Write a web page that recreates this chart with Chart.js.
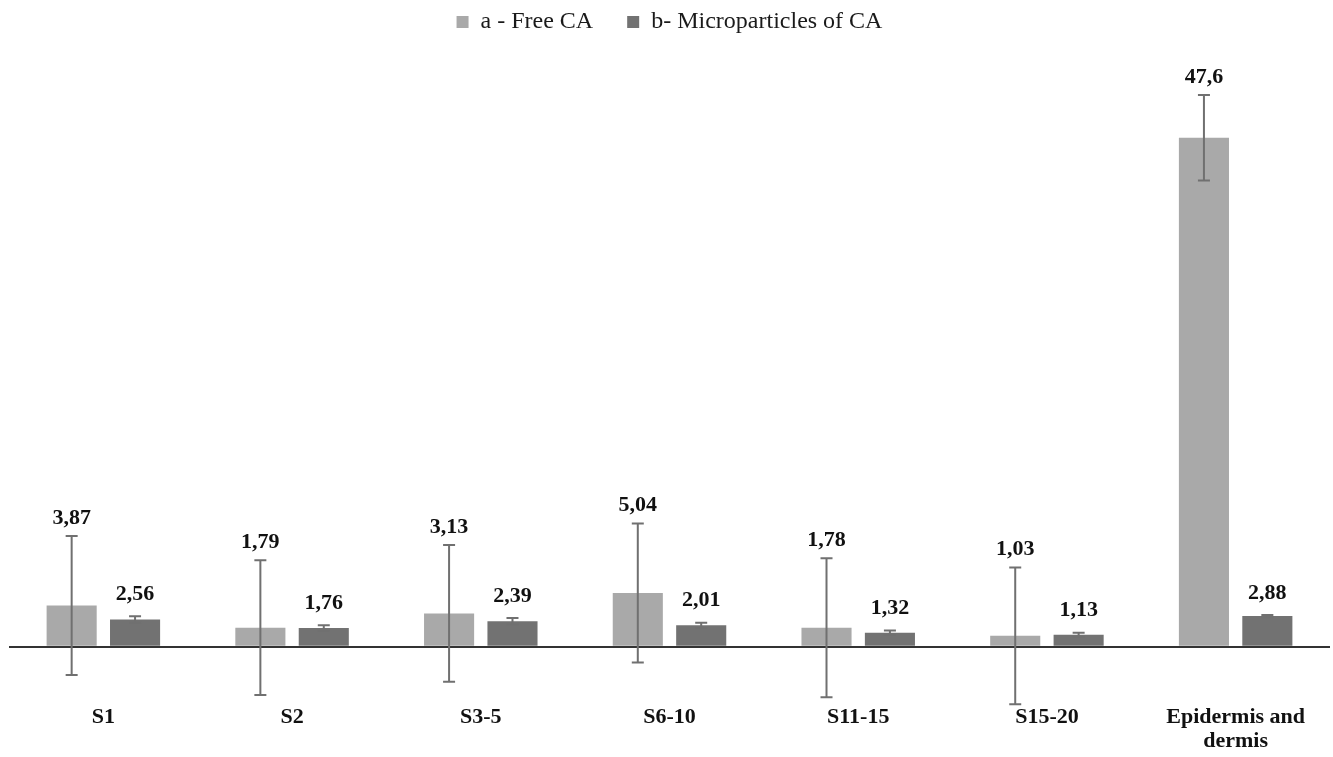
<!DOCTYPE html>
<html>
<head>
<meta charset="utf-8">
<script src="https://cdn.jsdelivr.net/npm/chart.js@4.4.1/dist/chart.umd.min.js"></script>
<style>
    html, body { margin: 0; padding: 0; background: #fff; }
    #wrap { width: 1333px; height: 757px; position: relative; }
</style>
</head>
<body>
<div id="wrap"><canvas id="chart"></canvas></div>
<script>
// =============================
// DATA
// =============================
const categories = ["S1", "S2", "S3-5", "S6-10", "S11-15", "S15-20", ["Epidermis and", "dermis"]];
const freeCA = [3.87, 1.79, 3.13, 5.04, 1.78, 1.03, 47.6];
const microCA = [2.56, 1.76, 2.39, 2.01, 1.32, 1.13, 2.88];
const freeErr = [6.5, 6.3, 6.4, 6.5, 6.5, 6.4, 4.0];
const microErr = [0.3, 0.25, 0.3, 0.25, 0.2, 0.2, 0.1];
const seriesNames = ["a - Free CA", "b- Microparticles of CA"];

const FONT = "'Liberation Serif', 'Times New Roman', serif";

// =============================
// ERROR BARS + VALUE LABELS
// =============================
const errorBars = {
    id: "errorBars",
    afterDatasetsDraw(chart) {
        const ctx = chart.ctx;
        const y = chart.scales.y;
        const errs = [freeErr, microErr];

        chart.data.datasets.forEach((ds, i) => {
            const meta = chart.getDatasetMeta(i);
            meta.data.forEach((bar, j) => {
                const v = ds.data[j];
                const e = errs[i][j];
                const top = y.getPixelForValue(v + e);
                const bot = y.getPixelForValue(v - e);
                const cap = 6;

                ctx.save();
                ctx.strokeStyle = "#707070";
                ctx.lineWidth = 2;
                ctx.beginPath();
                ctx.moveTo(bar.x, top);
                ctx.lineTo(bar.x, bot);
                ctx.moveTo(bar.x - cap, top);
                ctx.lineTo(bar.x + cap, top);
                ctx.moveTo(bar.x - cap, bot);
                ctx.lineTo(bar.x + cap, bot);
                ctx.stroke();

                ctx.fillStyle = "#111";
                ctx.font = "bold 22px " + FONT;
                ctx.textAlign = "center";
                ctx.textBaseline = "middle";
                ctx.fillText(String(v).replace(".", ","), bar.x, top - (i === 0 ? 18 : 22));
                ctx.restore();
            });
        });
    }
};

// =============================
// CHART
// =============================
new Chart(document.getElementById("chart"), {
    type: "bar",
    data: {
        labels: categories,
        datasets: [
            {
                label: seriesNames[0],
                data: freeCA,
                backgroundColor: "#a9a9a9",
                categoryPercentage: 0.672,
                barPercentage: 0.79
            },
            {
                label: seriesNames[1],
                data: microCA,
                backgroundColor: "#727272",
                categoryPercentage: 0.672,
                barPercentage: 0.79
            }
        ]
    },
    options: {
        responsive: true,
        maintainAspectRatio: false,
        animation: false,
        layout: { padding: { left: 9, right: 3, top: 0, bottom: 0 } },
        plugins: {
            tooltip: { enabled: false },
            legend: {
                position: "top",
                labels: {
                    boxWidth: 12,
                    boxHeight: 12,
                    padding: 10,
                    color: "#1a1a1a",
                    font: { family: FONT, size: 24 },
                    generateLabels(chart) {
                        const items = Chart.defaults.plugins.legend.labels.generateLabels(chart);
                        items[0].text += "    ";
                        items.forEach(it => { it.lineWidth = 0; });
                        return items;
                    }
                }
            }
        },
        scales: {
            x: {
                grid: { display: false, drawTicks: false },
                border: { display: false },
                ticks: {
                    color: "#111",
                    padding: 3,
                    maxRotation: 0,
                    font: { family: FONT, size: 22, weight: "bold", lineHeight: 1.12 }
                }
            },
            y: {
                min: -5.13,
                max: 56.37,
                border: { display: false },
                grid: {
                    drawTicks: false,
                    lineWidth: 2,
                    color: c => (c.tick && c.tick.value === 0 ? "#333" : "rgba(0,0,0,0)")
                },
                ticks: { display: false },
                afterBuildTicks: s => { s.ticks = [{ value: 0 }]; }
            }
        }
    },
    plugins: [errorBars]
});
</script>
</body>
</html>
